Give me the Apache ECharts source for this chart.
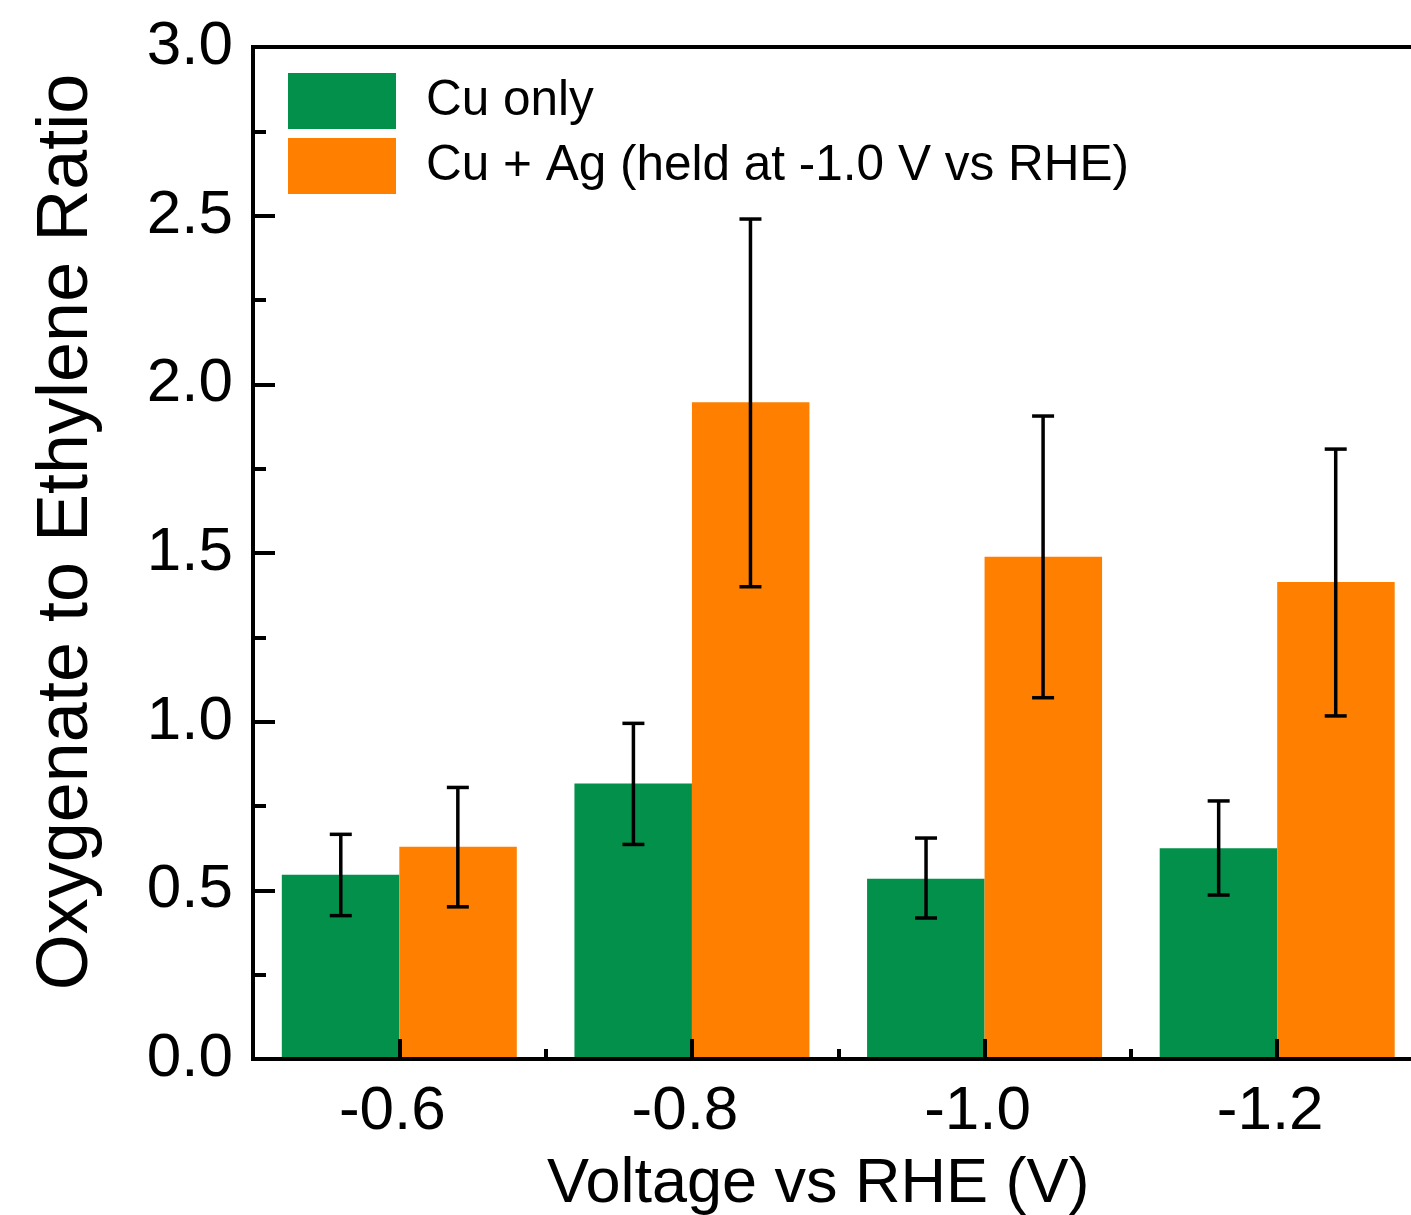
<!DOCTYPE html>
<html>
<head>
<meta charset="utf-8">
<script src="https://cdn.jsdelivr.net/npm/echarts@6/dist/echarts.min.js"></script>
<style>
html,body{margin:0;padding:0;overflow:hidden;background:#fff;}
#chart{width:1440px;height:1215px;}
</style>
</head>
<body>
<div id="chart"></div>
<script>
const categories = ['-0.6', '-0.8', '-1.0', '-1.2'];
const cuOnly = [0.546, 0.817, 0.534, 0.625];
const cuOnlyLow = [0.425, 0.636, 0.418, 0.486];
const cuOnlyHigh = [0.666, 0.995, 0.655, 0.765];
const cuAg = [0.629, 1.947, 1.489, 1.414];
const cuAgLow = [0.451, 1.400, 1.071, 1.017];
const cuAgHigh = [0.805, 2.490, 1.906, 1.808];
const yTicks = [0, 0.5, 1.0, 1.5, 2.0, 2.5, 3.0];

const FONT = "'Liberation Sans', Arial, sans-serif";
const GREEN = '#03904a';
const ORANGE = '#ff8000';

function errRender(sign) {
  return function (params, api) {
    const idx = api.value(0);
    const lo = api.coord([idx, api.value(1)]);
    const hi = api.coord([idx, api.value(2)]);
    const band = api.size([1, 0])[0];
    const cx = lo[0] + sign * band * 0.2;
    const hw = 11;
    const st = { stroke: '#000', lineWidth: 3.5 };
    return {
      type: 'group',
      children: [
        { type: 'line', shape: { x1: cx, y1: hi[1], x2: cx, y2: lo[1] }, style: st },
        { type: 'line', shape: { x1: cx - hw, y1: hi[1], x2: cx + hw, y2: hi[1] }, style: st },
        { type: 'line', shape: { x1: cx - hw, y1: lo[1], x2: cx + hw, y2: lo[1] }, style: st }
      ]
    };
  };
}

const chart = echarts.init(document.getElementById('chart'), null, { renderer: 'canvas' });
chart.setOption({
  backgroundColor: '#fff',
  animation: false,
  textStyle: { fontFamily: FONT, color: '#000' },
  grid: {
    left: 253, top: 47, right: 16.5, bottom: 156,
    outerBoundsMode: 'none', containLabel: false,
    show: true, borderColor: '#000', borderWidth: 4, backgroundColor: 'transparent'
  },
  legend: {
    orient: 'vertical', left: 288, top: 73, padding: 0,
    itemWidth: 108, itemHeight: 56, itemGap: 9,
    icon: 'rect',
    textStyle: { fontFamily: FONT, fontSize: 49.5, color: '#000', padding: [0, 0, 0, 25], lineHeight: 56 },
    data: ['Cu only', 'Cu + Ag (held at -1.0 V vs RHE)']
  },
  xAxis: [
    {
      type: 'category', data: categories, position: 'bottom', z: 5,
      axisLine: { show: true, lineStyle: { color: '#000', width: 4 } },
      axisTick: { show: true, inside: true, length: 10, alignWithLabel: false, lineStyle: { color: '#000', width: 4 } },
      axisLabel: { fontFamily: FONT, fontSize: 62, color: '#000', margin: 22, padding: [0, 14, 0, 0] },
      name: 'Voltage vs RHE (V)', nameLocation: 'middle', nameGap: 94,
      nameTextStyle: { fontFamily: FONT, fontSize: 63, color: '#000', padding: [0, 40, 0, 0] },
      splitLine: { show: false }
    },
    {
      type: 'category', data: categories, position: 'bottom', gridIndex: 0, z: 5,
      axisLine: { show: false },
      axisTick: { show: true, inside: true, length: 20, alignWithLabel: true, lineStyle: { color: '#000', width: 4 } },
      axisLabel: { show: false },
      splitLine: { show: false }
    }
  ],
  yAxis: {
    type: 'value', min: 0, max: 3, interval: 0.5, z: 5,
    axisLine: { show: true, lineStyle: { color: '#000', width: 4 } },
    axisTick: { show: true, inside: true, length: 22, lineStyle: { color: '#000', width: 4 } },
    minorTick: { show: true, splitNumber: 2, length: 13, lineStyle: { color: '#000', width: 4 } },
    axisLabel: {
      fontFamily: FONT, fontSize: 62, color: '#000', margin: 20,
      formatter: function (v) { return yTicks.indexOf(v) >= 0 ? v.toFixed(1) : ''; }
    },
    splitLine: { show: false },
    name: 'Oxygenate to Ethylene Ratio', nameLocation: 'middle', nameGap: 150,
    nameTextStyle: { fontFamily: FONT, fontSize: 72, color: '#000', padding: [0, 0, 0, 42] }
  },
  series: [
    {
      name: 'Cu only', type: 'bar', data: cuOnly, barWidth: 117.5, barGap: '0%',
      itemStyle: { color: GREEN }, z: 2
    },
    {
      name: 'Cu + Ag (held at -1.0 V vs RHE)', type: 'bar', data: cuAg, barWidth: 117.5, barGap: '0%',
      itemStyle: { color: ORANGE }, z: 2
    },
    {
      type: 'custom', name: 'err1', renderItem: errRender(-1), z: 6,
      encode: { x: 0, y: [1, 2] },
      data: categories.map((c, i) => [i, cuOnlyLow[i], cuOnlyHigh[i]])
    },
    {
      type: 'custom', name: 'err2', renderItem: errRender(1), z: 6,
      encode: { x: 0, y: [1, 2] },
      data: categories.map((c, i) => [i, cuAgLow[i], cuAgHigh[i]])
    }
  ]
});
</script>
</body>
</html>
